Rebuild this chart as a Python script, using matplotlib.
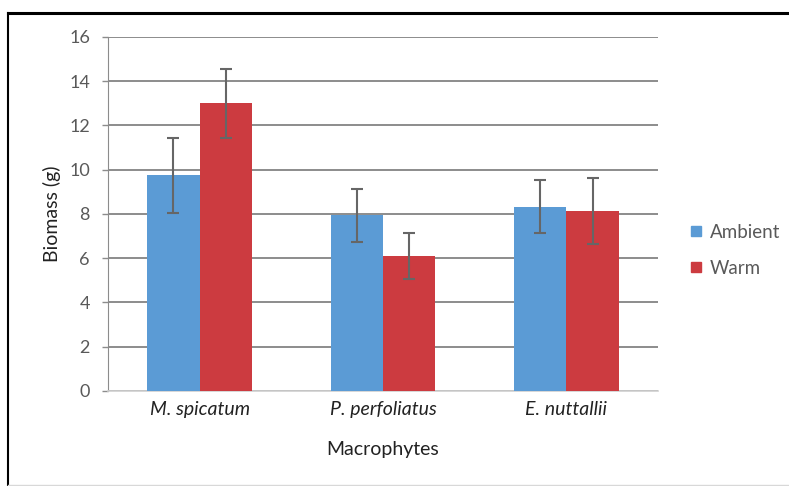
import numpy as np
import matplotlib.pyplot as plt
from matplotlib.lines import Line2D

# data
categories = ["M. spicatum", "P. perfoliatus", "E. nuttallii"]
ambient = [9.75, 7.95, 8.33]
ambient_err = [1.7, 1.2, 1.2]
warm = [13.0, 6.1, 8.14]
warm_err = [1.55, 1.05, 1.5]

BLUE = "#5B9BD5"
RED = "#CC3B40"
GRID = "#8C8C8C"

plt.rcParams["font.family"] = ["Lato", "DejaVu Sans"]

fig = plt.figure(figsize=(7.89, 4.86), dpi=100)
ax = fig.add_axes([0.1369, 0.1955, 0.697, 0.7284])

x = np.arange(len(categories))
w = 0.286
ekw = dict(ecolor="#666666", elinewidth=1.5, capsize=4, capthick=1.5)
ax.bar(x - w / 2, ambient, w, color=BLUE, yerr=ambient_err, error_kw=ekw, zorder=3)
ax.bar(x + w / 2, warm, w, color=RED, yerr=warm_err, error_kw=ekw, zorder=3)

ax.set_xlim(-0.5, 2.5)
ax.set_ylim(0, 16)
ax.set_yticks(range(0, 17, 2))
ax.yaxis.grid(True, color=GRID, linewidth=1.4, zorder=0)
ax.set_axisbelow(True)
ax.set_xticks(x)
ax.set_xticklabels(categories, fontstyle="italic", fontsize=14, color="#222222")
ax.tick_params(axis="x", length=0, pad=7)
ax.tick_params(axis="y", length=4, width=1, color=GRID, labelcolor="#595959",
               labelsize=13, pad=9)

for s in ["top", "right"]:
    ax.spines[s].set_visible(False)
ax.spines["left"].set_color(GRID)
ax.spines["bottom"].set_color("#D0D0D0")
ax.spines["bottom"].set_linewidth(1.2)

ax.set_ylabel("Biomass (g)", fontsize=14, color="#222222", labelpad=6)
ax.set_xlabel("Macrophytes", fontsize=14, color="#222222", labelpad=17)

handles = [Line2D([], [], marker="s", linestyle="", color=BLUE, markersize=7),
           Line2D([], [], marker="s", linestyle="", color=RED, markersize=7)]
fig.legend(handles, ["Ambient", "Warm"], loc="center left",
           bbox_to_anchor=(0.847, 0.485), frameon=False, fontsize=13.5,
           labelspacing=1.0, handletextpad=0.1, handlelength=1.2,
           labelcolor="#595959")

# outer frame
fig.add_artist(Line2D([0.0101, 1.0], [0.974, 0.974], color="black", linewidth=2.2,
                      transform=fig.transFigure))
fig.add_artist(Line2D([0.0101, 0.0101], [0.0, 0.974], color="black", linewidth=1.5,
                      transform=fig.transFigure))
fig.add_artist(Line2D([0.0101, 1.0], [0.003, 0.003], color="#D8D8D8", linewidth=1,
                      transform=fig.transFigure))

fig.savefig("out.png", dpi=100)
